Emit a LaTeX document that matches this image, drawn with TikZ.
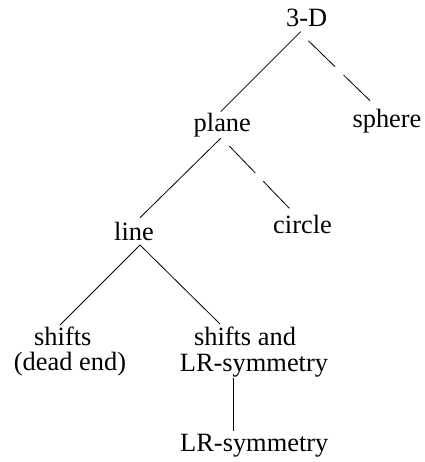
\documentclass[tikz,border=0pt]{standalone}
\usepackage{fontspec}
\setmainfont{Liberation Serif}
\begin{document}
\begin{tikzpicture}[x=1pt,y=-1pt,
  lbl/.style={anchor=base,inner sep=0pt,font=\fontsize{26.4}{26}\selectfont},
  twoline/.style={lbl,align=center},
  edge/.style={line width=0.8pt},
  dashedge/.style={edge,dash pattern=on 37.5pt off 11.5pt}]
\useasboundingbox (0,0) rectangle (424,462);

\node[lbl] (top)    at (306.7,27)    {3-D};
\node[lbl] (sphere) at (387,127.7)   {sphere};
\node[lbl] (plane)  at (222.3,131.7) {plane};
\node[lbl] (circle) at (302.5,233)   {circle};
\node[lbl] (line)   at (134,240)     {line};
\node[lbl] (shifts) at (62.8,345)    {shifts};
\node[lbl] (dead)   at (70,370.7)    {(dead end)};
\node[lbl] (sand)   at (245,345)     {shifts and};
\node[lbl] (lrsym)  at (254,371.7)   {LR-symmetry};
\node[lbl] (lr)     at (254.3,451.7) {LR-symmetry};

% solid branches
\draw[edge] ([shift={(-6,4.7)}]top.base) -- ([shift={(-1.6,-20)}]plane.base);
\draw[edge] ([shift={(-1.6,6.6)}]plane.base) -- ([shift={(6,-22.3)}]line.base);
\draw[edge] ([shift={(6,5)}]line.base) -- ([shift={(-2.8,-20)}]shifts.base);
\draw[edge] ([shift={(6,5)}]line.base) -- ([shift={(-25,-21)}]sand.base);
\draw[edge] ([shift={(-20.7,6.3)}]lrsym.base) -- ([shift={(-21,-21)}]lr.base);

% dashed branches
\draw[dashedge] ([shift={(1.6,13.7)}]top.base) -- ([shift={(-17,-27)}]sphere.base);
\draw[dashedge] ([shift={(7,14.3)}]plane.base) -- ([shift={(-13.2,-24.7)}]circle.base);
\end{tikzpicture}
\end{document}
